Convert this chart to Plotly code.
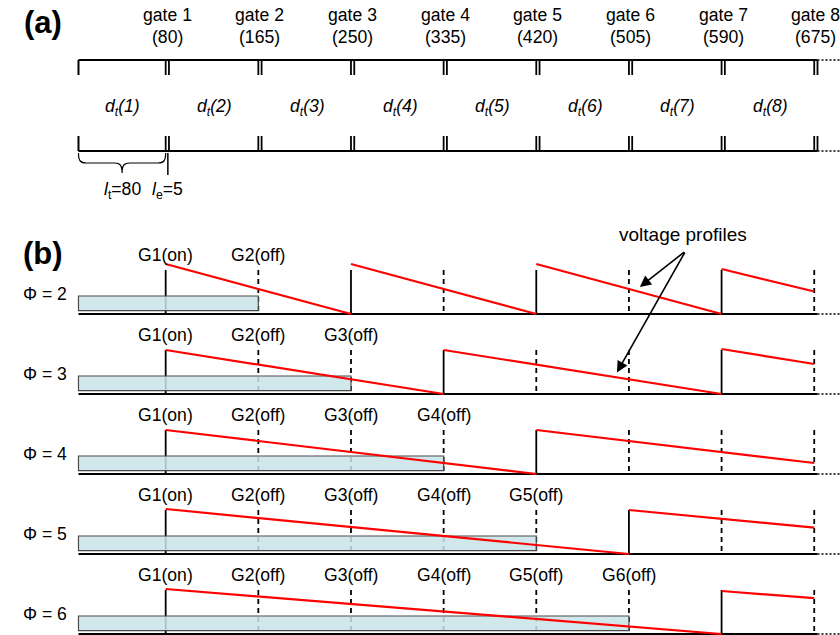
import plotly.graph_objects as go

# ---------------- data ----------------
gate_positions = [80, 165, 250, 335, 420, 505, 590, 675]
gate_titles = ["gate 1", "gate 2", "gate 3", "gate 4", "gate 5", "gate 6", "gate 7", "gate 8"]
gate_values = ["(80)", "(165)", "(250)", "(335)", "(420)", "(505)", "(590)", "(675)"]
segment_labels = ["<i>d<sub>t</sub>(%d)</i>" % k for k in range(1, 9)]
l_t = 80          # trap length
l_e = 5           # electrode length
phi_values = [2, 3, 4, 5, 6]
# peak height of each voltage ramp (one entry per switched-on gate in the row)
profile_peaks = [[50, 50, 50, 45], [44, 44, 45], [44, 44], [45, 44], [45, 43]]

# ---------------- drawing constants ----------------
FONT = "Liberation Sans, Arial, Helvetica, sans-serif"
PX_PER_UNIT = 1.09
X_MIN = -72.0
X_MAX = X_MIN + 840 / PX_PER_UNIT
TOP_RAIL, BOTTOM_RAIL, TICK = 60, 151, 15
PAIR_GAP = 3
LINE_END = gate_positions[-1] + PAIR_GAP
ROW0, ROW_STEP = 314, 80
GATE_H = 44
PERIOD = l_t + l_e
TXT = 17.6

shapes = []
annotations = []
fig = go.Figure()


def seg(x0, y0, x1, y1, width=2, color="black", dash="solid", layer="below"):
    shapes.append(dict(type="line", xref="x", yref="y", x0=x0, y0=y0, x1=x1, y1=y1,
                       line=dict(color=color, width=width, dash=dash), layer=layer))


def text(x, y, s, size=TXT, bold=False, xanchor="center"):
    annotations.append(dict(x=x, y=y, xref="x", yref="y", text=("<b>%s</b>" % s) if bold else s,
                            showarrow=False, xanchor=xanchor, yanchor="middle",
                            font=dict(family=FONT, size=size, color="black")))


# ---------------- (a) electrode layout ----------------
for rail, t0, t1 in [(TOP_RAIL, TOP_RAIL, TOP_RAIL + TICK), (BOTTOM_RAIL, BOTTOM_RAIL - TICK, BOTTOM_RAIL)]:
    seg(0, rail, LINE_END, rail, width=2)
    seg(LINE_END, rail, X_MAX, rail, width=1.4, dash="2px,2px")
    seg(0, t0, 0, t1, width=2)
    for g in gate_positions:
        seg(g, t0, g, t1, width=1.8)
        seg(g + PAIR_GAP, t0, g + PAIR_GAP, t1, width=1.8)

prev_end = 0
for g, title, val, lab in zip(gate_positions, gate_titles, gate_values, segment_labels):
    text(g + 1.5, 15, title)
    text(g + 1.5, 37, val)
    text((prev_end + g) / 2, 107, lab)
    prev_end = g + l_e

# brace spanning the trap length, then the electrode marker
mid = l_t / 2
brace = ("M 0,153 C 0,161 2,163 7,163 L %g,163 C %g,163 %g,165 %g,173 "
         "C %g,165 %g,163 %g,163 L %g,163 C %g,163 %g,161 %g,153") % (
    mid - 7, mid - 2, mid, mid, mid, mid + 2, mid + 7, l_t - 7, l_t - 2, l_t, l_t)
shapes.append(dict(type="path", xref="x", yref="y", path=brace, line=dict(color="black", width=1.2)))
seg(l_t + 2, 153, l_t + 2, 175, width=1.5)
text(l_t / 2, 190, "<i>l</i><sub>t</sub>=80")
text(l_t + 2, 190, "<i>l</i><sub>e</sub>=5")

text(-33, 22, "(a)", size=31, bold=True)
text(-33, 253, "(b)", size=31, bold=True)

# ---------------- (b) gate switching for each phi ----------------
profiles = []
for i, (phi, peaks) in enumerate(zip(phi_values, profile_peaks)):
    base = ROW0 + ROW_STEP * i
    on_idx = list(range(0, len(gate_positions), phi))
    for k, g in enumerate(gate_positions):
        seg(g, base - GATE_H, g, base, width=1.8, dash="solid" if k in on_idx else "5px,4px")
    # trapped region
    shapes.append(dict(type="rect", xref="x", yref="y", x0=0, x1=gate_positions[phi - 1],
                       y0=base - 18, y1=base - 3.3, fillcolor="rgba(200,228,231,0.85)",
                       line=dict(color="#4a4a4a", width=1.2), layer="below"))
    seg(0, base, LINE_END, base, width=2.2)
    seg(LINE_END, base, X_MAX, base, width=1.4, dash="2px,2px")

    row_profile = []
    for k, peak in zip(on_idx, peaks):
        x0 = gate_positions[k]
        full = phi * PERIOD
        x1 = min(x0 + full, gate_positions[-1])
        v1 = peak * (1 - (x1 - x0) / full)
        row_profile.append((x0, peak, full))
        fig.add_trace(go.Scatter(x=[x0, x1], y=[base - peak, base - v1], mode="lines",
                                 line=dict(color="#ff0000", width=2.2), hoverinfo="skip",
                                 showlegend=False))
    profiles.append((base, row_profile))

    text(gate_positions[0], base - 59, "G1(on)")
    for k in range(2, phi + 1):
        text(gate_positions[k - 1], base - 59, "G%d(off)" % k)
    text(-31, base - 20, "\u03a6 = %d" % phi)


def profile_height(row, x):
    base, segs = profiles[row]
    for x0, peak, full in segs:
        if x0 <= x <= x0 + full:
            return base - peak * (1 - (x - x0) / full)
    return base


# callout pointing at two of the ramps
label_x = 555
text(label_x, 234, "voltage profiles", size=19)
for row, x in [(0, 515), (1, 494)]:
    annotations.append(dict(x=x, y=profile_height(row, x) - 5, xref="x", yref="y",
                            ax=label_x + 2, ay=251, axref="x", ayref="y", text="",
                            showarrow=True, arrowhead=2, arrowsize=1.4, arrowwidth=1.6,
                            arrowcolor="black", standoff=0, startstandoff=0))

fig.update_layout(
    width=840, height=635,
    margin=dict(l=0, r=0, t=0, b=0),
    paper_bgcolor="white", plot_bgcolor="white",
    xaxis=dict(range=[X_MIN, X_MAX], visible=False, fixedrange=True),
    yaxis=dict(range=[635, 0], visible=False, fixedrange=True),
    shapes=shapes, annotations=annotations,
    showlegend=False,
)

fig.write_html("out.html")
